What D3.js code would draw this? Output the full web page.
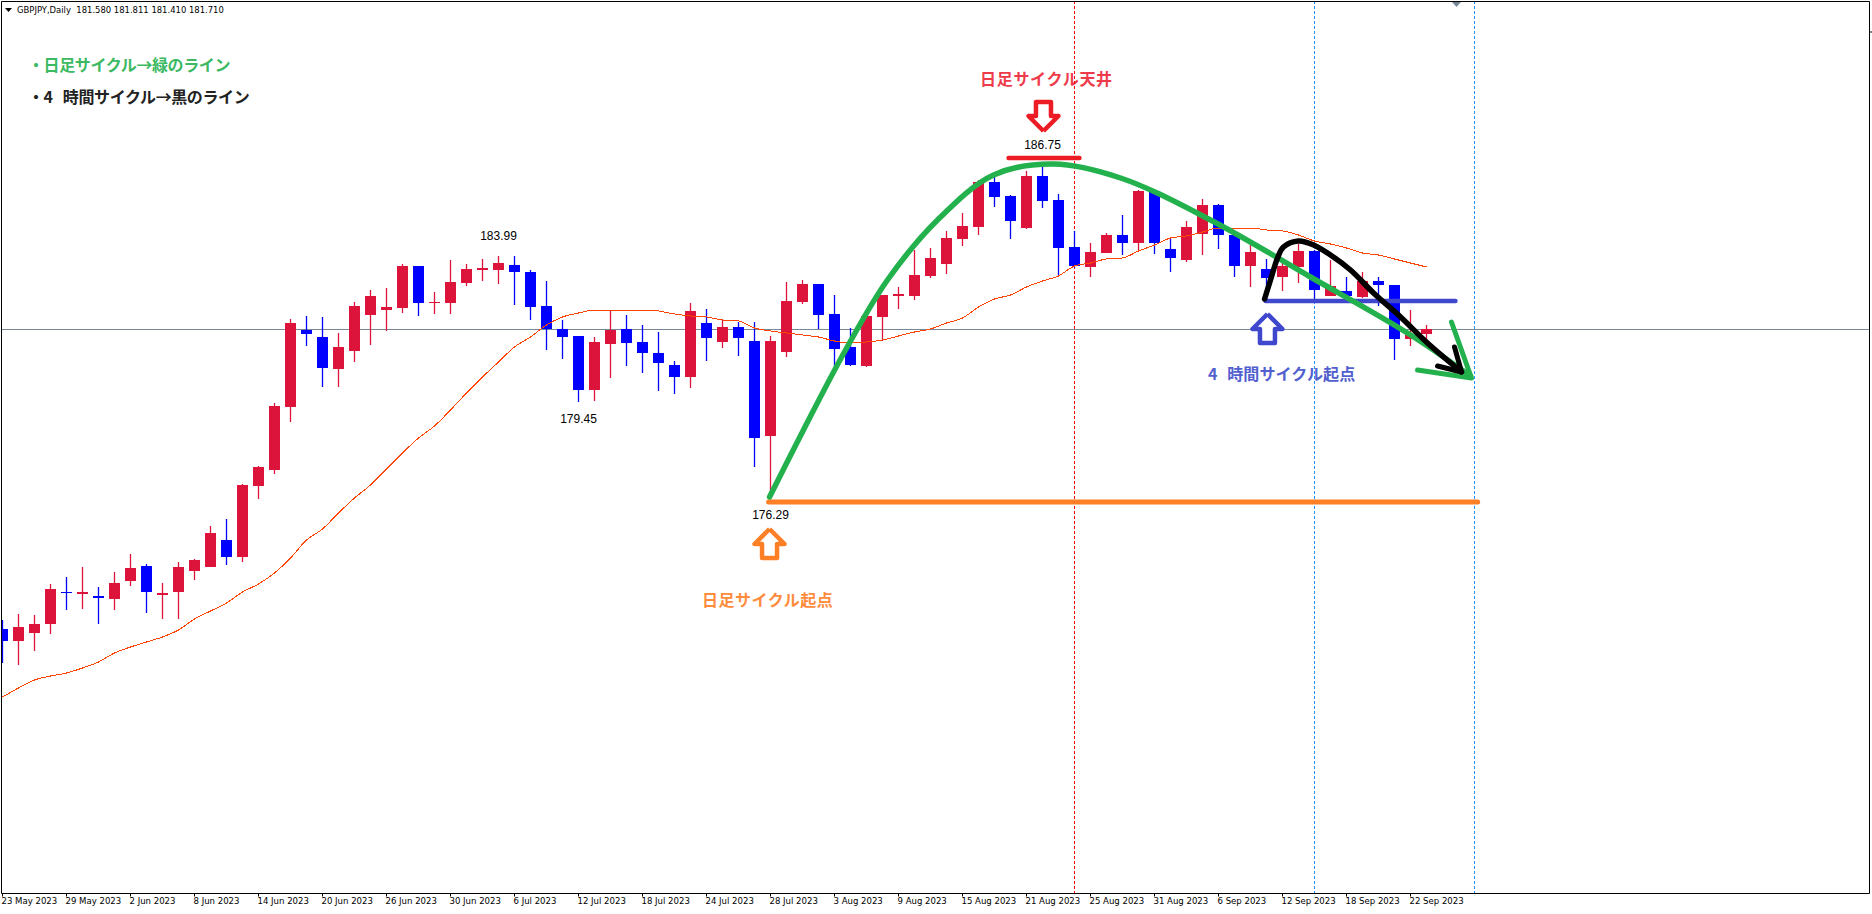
<!DOCTYPE html>
<html><head><meta charset="utf-8">
<style>html,body{margin:0;padding:0;background:#fff;overflow:hidden}svg{display:block}</style>
<script src="https://cdn.jsdelivr.net/npm/d3@7"></script>
</head><body><svg id="c" width="1872" height="914"></svg>
<script>
const opens=[172.096,171.712,171.968,172.256,173.28,173.216,173.152,173.056,173.632,174.112,173.184,173.28,173.952,174.08,174.944,174.4,176.672,177.184,179.2,181.664,181.44,180.416,180.992,182.144,182.304,182.368,183.712,182.528,182.528,183.168,183.584,183.584,183.744,183.52,182.432,181.696,181.472,179.744,181.216,181.696,181.28,180.928,180.544,180.16,181.888,181.28,181.76,181.312,178.272,180.96,182.56,183.136,182.176,181.12,180.512,182.08,182.752,182.752,183.392,183.776,184.576,184.96,186.4,185.952,184.928,186.592,185.824,184.32,183.68,184.128,184.704,184.448,186.112,184.256,183.904,184.736,185.664,184.704,183.712,183.616,183.36,183.68,184.192,182.752,182.912,182.72,183.232,183.104,181.376,181.536];
const highs=[172.384,172.576,172.544,173.536,173.76,174.08,173.44,173.92,174.496,174.176,173.568,174.24,174.336,175.392,175.616,176.736,177.312,179.328,182.016,182.112,182.08,181.568,182.56,182.944,183.008,183.776,183.712,182.88,183.904,183.776,183.936,184.032,184.032,183.584,183.232,181.984,181.472,181.44,182.304,182.144,181.824,181.6,180.672,182.528,182.336,182.016,181.92,181.92,181.472,183.2,183.264,183.136,182.784,181.728,182.112,182.784,183.04,184.224,184.288,184.832,185.408,186.464,186.56,185.984,186.752,186.88,186.016,184.832,184.448,184.768,185.344,186.144,186.112,184.608,185.152,185.856,185.696,184.704,184.384,183.936,183.904,184.416,184.224,183.904,183.36,183.52,183.36,183.104,182.304,181.824];
const lows=[171.008,170.944,171.392,171.936,172.704,172.736,172.256,172.704,173.472,172.608,172.416,172.416,173.664,174.08,174.144,174.24,176.256,177.056,178.72,181.152,179.84,179.84,180.64,181.184,181.632,182.208,182.112,182.176,182.176,183.072,183.232,183.136,182.464,181.984,181.024,180.736,179.36,179.392,180.128,180.512,180.288,179.712,179.616,179.808,180.672,181.088,180.832,177.28,176.288,180.8,182.496,181.696,180.384,180.512,180.48,181.312,182.336,182.624,183.328,183.456,184.352,184.704,185.6,184.576,184.896,185.568,183.392,183.648,183.36,184.128,184.064,184.224,184.096,183.52,183.84,184.064,184.256,183.36,183.04,182.848,182.912,183.168,182.624,182.752,182.624,182.688,182.432,180.704,181.152,181.216];
const closes=[171.712,172.16,172.256,173.376,173.248,173.28,173.088,173.568,174.048,173.28,173.248,174.08,174.304,175.168,174.4,176.704,177.28,179.232,181.888,181.536,180.448,181.12,182.432,182.752,182.4,183.712,182.528,182.56,183.2,183.616,183.648,183.808,183.52,182.4,181.696,181.44,179.744,181.28,181.664,181.248,180.928,180.608,180.16,182.272,181.408,181.76,181.408,178.208,181.312,182.592,183.136,182.144,181.056,180.544,182.112,182.784,182.816,183.424,183.968,184.608,184.992,186.4,185.92,185.152,186.592,185.792,184.288,183.712,184.16,184.704,184.448,186.112,184.448,183.968,184.96,185.664,184.704,183.712,184.16,183.328,183.712,184.192,182.944,183.072,182.752,183.232,183.104,181.376,181.504,181.696];
const movingAverage=[169.92,170.208,170.464,170.592,170.688,170.848,171.04,171.328,171.52,171.68,171.84,172.064,172.416,172.672,172.928,173.28,173.536,173.888,174.368,174.944,175.296,175.808,176.288,176.704,177.216,177.728,178.208,178.592,179.104,179.648,180.16,180.64,181.12,181.44,181.824,182.08,182.208,182.304,182.304,182.272,182.304,182.272,182.176,182.112,182.08,181.984,181.952,181.728,181.632,181.568,181.504,181.44,181.312,181.248,181.28,181.344,181.472,181.6,181.696,181.888,182.048,182.4,182.656,182.784,183.04,183.232,183.392,183.712,183.808,183.936,183.968,184.192,184.384,184.608,184.672,184.8,184.928,184.928,184.928,184.864,184.832,184.704,184.512,184.416,184.288,184.128,184.064,183.936,183.808,183.68];
const dateTicks=[0,4,8,12,16,20,24,28,32,36,40,44,48,52,56,60,64,68,72,76,80,84,88];
const dateLabels=["23 May 2023","29 May 2023","2 Jun 2023","8 Jun 2023","14 Jun 2023","20 Jun 2023","26 Jun 2023","30 Jun 2023","6 Jul 2023","12 Jul 2023","18 Jul 2023","24 Jul 2023","28 Jul 2023","3 Aug 2023","9 Aug 2023","15 Aug 2023","21 Aug 2023","25 Aug 2023","31 Aug 2023","6 Sep 2023","12 Sep 2023","18 Sep 2023","22 Sep 2023"];
const header="GBPJPY,Daily  181.580 181.811 181.410 181.710";
const currentPrice=181.68;
const redVerticalBar=67, blueVerticalBars=[82,92];
const dailyCycleBars=[47.94,50.06,52.69,55.31,58.44,61.94,65.69,69.88,75.5,81.75,87.81,91.75];
const dailyCyclePrices=[176.32,178.464,181.024,183.264,185.184,186.624,186.976,186.528,185.184,183.36,181.568,180.192];
const dailyHeadBars=[90.56,91.81,88.44], dailyHeadPrices=[181.92,180.128,180.384];
const h4CycleBars=[78.88,79.25,79.69,80.06,81,81.94,83,84.25,85.69,87.38,89.06,91.19];
const h4CyclePrices=[182.656,183.264,183.968,184.32,184.512,184.384,184.064,183.584,182.848,182.08,181.248,180.32];
const h4HeadBars=[89.69,91.19,90.75], h4HeadPrices=[180.512,180.32,181.12];
const levelNames=["orange","blue","red"];
const levelPrices=[176.16,182.592,187.168];
const levelFrom=[47.88,78.94,62.88], levelTo=[92.2,90.81,67.31];
const priceLabels=["183.99","179.45","176.29","186.75"];
const priceLabelBars=[31,36,48,65], priceLabelPrices=[184.69,178.82,175.76,187.6];
const GREEN="#22B14C",ORANGE="#FF7F27",BLUE="#3F48CC",RED="#ED1C24";

const x=d3.scaleLinear().domain([0,116.6]).range([2.5,1868.1]);
const y=d3.scaleLinear().domain([176,186]).range([507,194.5]);
const svg=d3.select("#c");
const SANS='"Liberation Sans",Arial,sans-serif',AXF='"DejaVu Sans",sans-serif',CJK='"Noto Sans CJK JP",sans-serif';
const plotW=1869,plotB=893;
svg.append("defs").append("clipPath").attr("id","plot").append("rect").attr("x",1.5).attr("y",1).attr("width",plotW-1.5).attr("height",plotB-1);

// callout texts
const callouts=[
 {t:"・日足サイクル→緑のライン",px:28,py:65,c:"#3CB963",ls:-0.4,ws:0,fs:16},
 {t:"・4 時間サイクル→黒のライン",px:28,py:97,c:"#222",ls:-0.4,ws:7,fs:16},
 {t:"日足サイクル天井",px:980,py:79,c:"#EE3B4B",ls:0.7,ws:0,fs:16},
 {t:"日足サイクル起点",px:702,py:600,c:"#FF8B3D",ls:0.5,ws:0,fs:16},
 {t:"4 時間サイクル起点",px:1208,py:374,c:"#5260CF",ls:0.1,ws:6,fs:16}];
svg.append("g").selectAll("text").data(callouts).join("text")
 .attr("x",d=>d.px).attr("y",d=>d.py).attr("dy","0.36em")
 .attr("font-family",CJK).attr("font-weight",700).attr("font-size",d=>d.fs)
 .attr("letter-spacing",d=>d.ls).attr("word-spacing",d=>d.ws).attr("fill",d=>d.c).text(d=>d.t);

// current price line and vertical lines
const bg=svg.append("g").attr("clip-path","url(#plot)");
bg.append("line").attr("x1",0).attr("x2",plotW).attr("y1",Math.round(y(currentPrice))+0.5).attr("y2",Math.round(y(currentPrice))+0.5).attr("stroke","#778899");
[redVerticalBar,...blueVerticalBars].forEach((b,i)=>{
 const px=Math.floor(x(b))+0.5;
 bg.append("line").attr("x1",px).attr("x2",px).attr("y1",1).attr("y2",plotB+3)
  .attr("stroke",i==0?"#FF0000":"#1E90FF").attr("stroke-dasharray","3,2");
});

// candles
const idx=d3.range(opens.length);
const col=i=>closes[i]>=opens[i]?"#DC143C":"#0000FF";
const cg=svg.append("g").attr("clip-path","url(#plot)");
cg.selectAll("line.w").data(idx).join("line").attr("class","w")
 .attr("x1",x).attr("x2",x).attr("y1",i=>y(highs[i])).attr("y2",i=>y(lows[i]))
 .attr("stroke",col).attr("stroke-width",1.3);
cg.selectAll("rect.b").data(idx).join("rect").attr("class","b")
 .attr("x",i=>x(i)-5.5).attr("width",11)
 .attr("y",i=>Math.round(y(Math.max(opens[i],closes[i]))))
 .attr("height",i=>Math.max(1,Math.round(y(Math.min(opens[i],closes[i])))-Math.round(y(Math.max(opens[i],closes[i])))))
 .attr("fill",col).attr("shape-rendering","crispEdges");

// moving average
cg.append("path").attr("fill","none").attr("stroke","#FF4500").attr("stroke-width",1).attr("shape-rendering","crispEdges")
 .attr("d",d3.line().x(i=>x(i)).y(i=>y(movingAverage[i])).curve(d3.curveMonotoneX)(idx));

// axes
const ax=d3.axisBottom(x).tickValues(dateTicks).tickFormat((d,i)=>dateLabels[i]).tickSize(3).tickPadding(3).offset(0);
const gx=svg.append("g").attr("transform",`translate(0,${plotB+0.5})`).call(ax);
gx.select(".domain").remove();
gx.selectAll("line").attr("stroke","#000");
gx.selectAll("text").attr("text-anchor","start").attr("dx",-1).attr("y",4).attr("font-family",AXF).attr("font-stretch","condensed").attr("font-size",9.5).attr("fill","#000");
const frame=svg.append("g").attr("stroke","#000").attr("fill","none");
frame.append("path").attr("d",d3.line()([[1.5,1.5],[plotW+0.5,1.5],[plotW+0.5,plotB+0.5],[1.5,plotB+0.5],[1.5,1.5]]));
const ay=d3.axisRight(y).tickValues([191.2]).tickFormat("").tickSize(3).offset(0);
const gy=svg.append("g").attr("transform",`translate(${plotW+0.5},0)`).call(ay);
gy.select(".domain").remove();
gy.selectAll("line").attr("stroke","#000");

// chart header
svg.append("path").attr("d",d3.line()([[5,8],[12,8],[8.5,12]])).attr("fill","#000");
svg.append("text").attr("x",17).attr("y",10).attr("dy","0.36em").attr("xml:space","preserve").style("white-space","pre")
 .attr("font-family",AXF).attr("font-stretch","condensed").attr("font-size",9.4).attr("fill","#000").text(header);
svg.append("path").attr("d",d3.line()([[1452,2],[1461,2],[1456.5,7]])).attr("fill","#778899");

// price labels
svg.append("g").selectAll("text").data(priceLabels).join("text")
 .attr("x",(d,i)=>x(priceLabelBars[i])).attr("y",(d,i)=>y(priceLabelPrices[i])).attr("dy","0.36em")
 .attr("text-anchor","middle").attr("font-family",SANS).attr("font-size",12).attr("fill","#000").text(d=>d);

// hand-drawn annotations
const ann=svg.append("g").attr("fill","none").attr("stroke-linecap","round").attr("stroke-linejoin","round");
levelNames.forEach((n,i)=>{
 ann.append("line").attr("x1",x(levelFrom[i])).attr("x2",x(levelTo[i])).attr("y1",y(levelPrices[i])).attr("y2",y(levelPrices[i]))
  .attr("stroke",[ORANGE,BLUE,RED][i]).attr("stroke-width",i==0?5:4.5);
});
const curve=d3.line().x(d=>x(d[0])).y(d=>y(d[1])).curve(d3.curveCatmullRom.alpha(0.5));
const poly=d3.line().x(d=>x(d[0])).y(d=>y(d[1]));
ann.append("path").attr("d",curve(d3.zip(dailyCycleBars,dailyCyclePrices))).attr("stroke",GREEN).attr("stroke-width",5.5);
ann.append("path").attr("d",poly(d3.zip(dailyHeadBars,dailyHeadPrices))).attr("stroke",GREEN).attr("stroke-width",5);
ann.append("path").attr("d",curve(d3.zip(h4CycleBars,h4CyclePrices))).attr("stroke","#000").attr("stroke-width",5.5);
ann.append("path").attr("d",poly(d3.zip(h4HeadBars,h4HeadPrices))).attr("stroke","#000").attr("stroke-width",5);

// block arrows: tip placed through the scales
function arrow(bar,price,dir,color){
 const g=svg.append("g").attr("transform",`translate(${x(bar)},${y(price)}) scale(1,${dir})`);
 g.append("path").attr("d",d3.line()([[0,2],[-15,17],[-7.5,17],[-7.5,31],[7.5,31],[7.5,17],[15,17],[0,2]]))
  .attr("fill","#fff").attr("stroke",color).attr("stroke-width",4.5).attr("stroke-linejoin","round");
}
arrow(47.94,175.36,1,ORANGE);
arrow(79.06,182.24,1,BLUE);
arrow(65.06,187.968,-1,RED);
</script></body></html>
